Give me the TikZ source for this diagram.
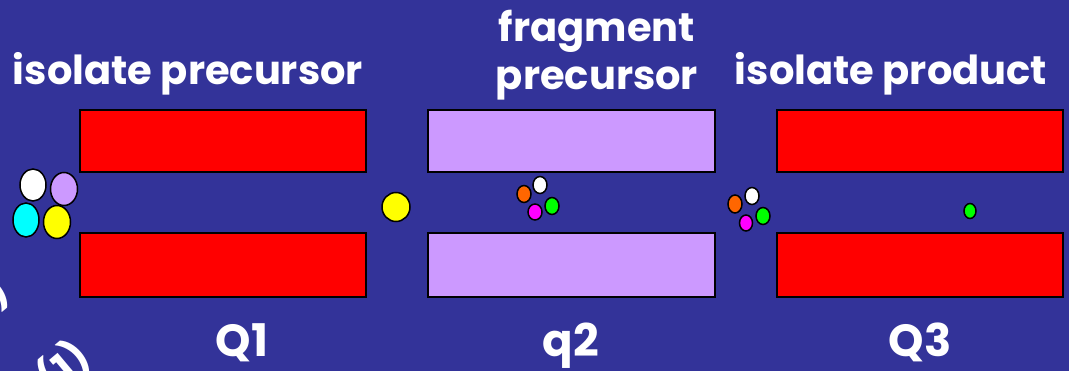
\documentclass[tikz,border=0pt]{standalone}
\usepackage{fontspec}
\newfontfamily\labfont{Poppins}
\definecolor{bgblue}{HTML}{333399}
\definecolor{rodred}{HTML}{FF0000}
\definecolor{rodlav}{HTML}{CC99FF}
\definecolor{ionlav}{HTML}{CC99FF}
\definecolor{ioncyan}{HTML}{00FFFF}
\definecolor{ionyellow}{HTML}{FFFF00}
\definecolor{ionorange}{HTML}{FF6600}
\definecolor{iongreen}{HTML}{00FF00}
\definecolor{ionmagenta}{HTML}{FF00FF}
\usetikzlibrary{shapes.geometric}
\tikzset{
  rod/.style={draw=black, line width=1.6pt, inner sep=0pt},
  ion/.style={draw=black, line width=1.5pt, ellipse},
  lab/.style={text=white, anchor=base, inner sep=0pt,
    font=\labfont\bfseries\fontsize{40}{44}\selectfont},
  quadlab/.style={lab, font=\labfont\bfseries\fontsize{45}{50}\selectfont},
}
\begin{document}
\begin{tikzpicture}[x=1pt,y=-1pt]
  \useasboundingbox (0,0) rectangle (1069,371);
  \clip (0,0) rectangle (1069,371);
  \fill[bgblue] (0,0) rectangle (1069,371);

  % quadrupole rod pairs
  \node[rod, fill=rodred, minimum width=286pt, minimum height=62pt] (q1top) at (223,141) {};
  \node[rod, fill=rodred, minimum width=286pt, minimum height=64pt] (q1bot) at (223,265) {};
  \node[rod, fill=rodlav, minimum width=287pt, minimum height=62pt] (q2top) at (571.5,141) {};
  \node[rod, fill=rodlav, minimum width=287pt, minimum height=64pt] (q2bot) at (571.5,265) {};
  \node[rod, fill=rodred, minimum width=286pt, minimum height=62pt] (q3top) at (920,141) {};
  \node[rod, fill=rodred, minimum width=286pt, minimum height=64pt] (q3bot) at (920,265) {};

  % ions entering Q1
  \node[ion, fill=white, minimum width=26pt, minimum height=32pt] (i1) at (33,185) {};
  \node[ion, fill=ionlav, minimum width=27pt, minimum height=33pt] (i2) at (64,189) {};
  \node[ion, fill=ioncyan, minimum width=26pt, minimum height=34pt] (i3) at (26,220) {};
  \node[ion, fill=ionyellow, minimum width=27pt, minimum height=33pt] (i4) at (57,222) {};

  % selected precursor
  \node[ion, fill=ionyellow, minimum width=28pt, minimum height=29pt] (prec) at (396,207) {};

  % fragments inside q2
  \node[ion, fill=ionorange, minimum width=14pt, minimum height=17pt] (f1) at (524,194) {};
  \node[ion, fill=white, minimum width=14pt, minimum height=17pt] (f2) at (540,185) {};
  \node[ion, fill=iongreen, minimum width=14pt, minimum height=17pt] (f3) at (552,206) {};
  \node[ion, fill=ionmagenta, minimum width=14pt, minimum height=16pt] (f4) at (535,212) {};

  % fragments leaving q2
  \node[ion, fill=ionorange, minimum width=14pt, minimum height=18pt] (g1) at (735,204) {};
  \node[ion, fill=white, minimum width=14pt, minimum height=17pt] (g2) at (752,196) {};
  \node[ion, fill=iongreen, minimum width=14pt, minimum height=17pt] (g3) at (763,216) {};
  \node[ion, fill=ionmagenta, minimum width=13pt, minimum height=16pt] (g4) at (746,223) {};

  % selected product
  \node[ion, fill=iongreen, minimum width=12pt, minimum height=15pt] (prod) at (970,211) {};

  % stage labels
  \node[lab] (t1) at (188,85) {isolate precursor};
  \node[lab] (t2a) at (597,42) {fragment};
  \node[lab] (t2b) at (597,90) {precursor};
  \node[lab] (t3) at (891,85) {isolate product};
  \node[quadlab] (n1) at (242,357) {Q1};
  \node[quadlab] (n2) at (571,357) {q2};
  \node[quadlab] (n3) at (920,357) {Q3};

  % cut-off rotated text at the lower left edge
  \node[lab, anchor=center, rotate=40] (c1) at (64,368) {(1)};
  \node[lab, anchor=center, rotate=40] (c2) at (-5,290) {)};
\end{tikzpicture}
\end{document}
